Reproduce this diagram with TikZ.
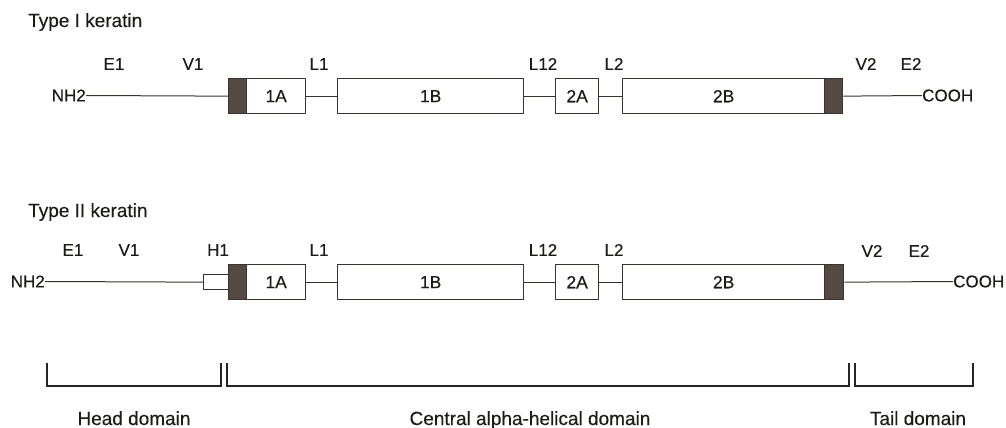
\documentclass[tikz,border=0pt]{standalone}
\usepackage{fontspec}
\setmainfont{Liberation Sans}[FakeBold=0.3]
\definecolor{ink}{HTML}{3A322C}
\definecolor{shade}{HTML}{554A43}
\definecolor{txt}{HTML}{1E1A18}
\begin{document}
\begin{tikzpicture}[x=1pt,y=-1pt,
  lab/.style={inner sep=0pt, text=txt, font=\fontsize{17}{20}\selectfont},
  head/.style={inner sep=0pt, text=txt, font=\fontsize{19}{22}\selectfont, anchor=base west},
  dom/.style={inner sep=0pt, text=txt, font=\fontsize{19}{22}\selectfont, anchor=base},
  seg/.style={draw=ink, line width=1.3pt, fill=white, inner sep=0pt, anchor=north west, minimum height=35pt, text=txt, font=\fontsize{17.5}{20}\selectfont},
  dark/.style={seg, fill=shade},
  conn/.style={draw=ink, line width=1pt},
  brk/.style={draw=black!85, line width=2pt}
]
\useasboundingbox (0,0) rectangle (1006,428);

% ---------- Type I ----------
\node[head] (t1) at (28,27) {Type I keratin};
\node[lab] (e1a) at (114,64) {E1};
\node[lab] (v1a) at (193,64) {V1};
\node[lab] (l1a) at (319,64) {L1};
\node[lab] (l12a) at (543,64) {L12};
\node[lab] (l2a) at (614,64) {L2};
\node[lab] (v2a) at (866,64) {V2};
\node[lab] (e2a) at (911,64) {E2};

\node[lab, anchor=east] (nh2a) at (86,95.5) {NH2};
\node[dark, minimum width=18pt] (s1a) at (228,78) {};
\node[seg, minimum width=59pt] (a1) at (246,78) {1A};
\node[seg, minimum width=186pt] (b1) at (337,78) {1B};
\node[seg, minimum width=43pt] (c1) at (555,78) {2A};
\node[seg, minimum width=202pt] (d1) at (622,78) {2B};
\node[dark, minimum width=18pt] (s1b) at (824,78) {};
\node[lab, anchor=west] (co1) at (922,95.5) {COOH};

\draw[conn] (nh2a.east) -- (s1a.west);
\draw[conn] (a1.east) -- (b1.west);
\draw[conn] (b1.east) -- (c1.west);
\draw[conn] (c1.east) -- (d1.west);
\draw[conn] (s1b.east) -- (co1.west);

% ---------- Type II ----------
\node[head] (t2) at (28,217) {Type II keratin};
\node[lab] (e1b) at (73,250) {E1};
\node[lab] (v1b) at (129,250) {V1};
\node[lab] (h1b) at (218,250) {H1};
\node[lab] (l1b) at (319,250) {L1};
\node[lab] (l12b) at (543,250) {L12};
\node[lab] (l2b) at (614,250) {L2};
\node[lab] (v2b) at (872,251) {V2};
\node[lab] (e2b) at (919,251) {E2};

\node[lab, anchor=east] (nh2b) at (45,281.5) {NH2};
\node[seg, minimum width=25pt, minimum height=15pt] (h2) at (203,274) {};
\node[dark, minimum width=18pt] (s2a) at (228,264) {};
\node[seg, minimum width=59pt] (a2) at (246,264) {1A};
\node[seg, minimum width=186pt] (b2) at (337,264) {1B};
\node[seg, minimum width=43pt] (c2) at (555,264) {2A};
\node[seg, minimum width=202pt] (d2) at (622,264) {2B};
\node[dark, minimum width=19pt] (s2b) at (824,264) {};
\node[lab, anchor=west] (co2) at (953,281.5) {COOH};

\draw[conn] (nh2b.east) -- (h2.west);
\draw[conn] (a2.east) -- (b2.west);
\draw[conn] (b2.east) -- (c2.west);
\draw[conn] (c2.east) -- (d2.west);
\draw[conn] (s2b.east) -- (co2.west);

% ---------- domain brackets ----------
\draw[brk] (47,363) -- (47,386) -- (221,386) -- (221,363);
\draw[brk] (227,363) -- (227,386) -- (849,386) -- (849,363);
\draw[brk] (855,363) -- (855,386) -- (973,386) -- (973,363);

\node[dom] (hd) at (134,425) {Head domain};
\node[dom] (cd) at (530,425) {Central alpha-helical domain};
\node[dom] (td) at (918,425) {Tail domain};
\end{tikzpicture}
\end{document}
